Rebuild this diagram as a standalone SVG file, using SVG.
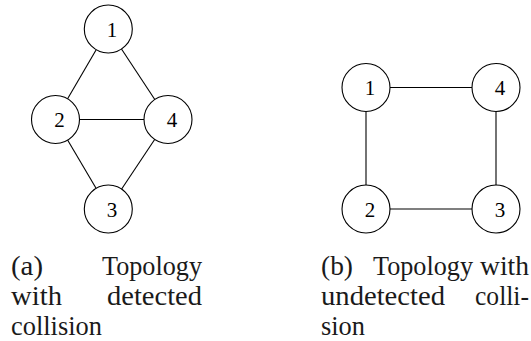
<svg xmlns="http://www.w3.org/2000/svg" width="531" height="341" viewBox="0 0 531 341">
<style>
.e{stroke:#000;stroke-width:1.1;fill:none}
.n circle{fill:#fff;stroke:#000;stroke-width:1.1}
.n text{font-family:"Liberation Serif",serif;font-size:21px;text-anchor:middle;fill:#000}
.c{font-family:"Liberation Serif",serif;font-size:27px;fill:#1a1a1a}
</style>
<rect width="531" height="341" fill="#fff"/>
<g id="connectors">
<line class="e" x1="108.3" y1="29" x2="55.5" y2="119.5"/>
<line class="e" x1="108.3" y1="29" x2="168" y2="119.5"/>
<line class="e" x1="55.5" y1="119.5" x2="168" y2="119.5"/>
<line class="e" x1="55.5" y1="119.5" x2="108.3" y2="209"/>
<line class="e" x1="168" y1="119.5" x2="108.3" y2="209"/>
<line class="e" x1="366" y1="87.5" x2="496" y2="87.5"/>
<line class="e" x1="366" y1="87.5" x2="366" y2="209"/>
<line class="e" x1="496" y1="87.5" x2="496" y2="209"/>
<line class="e" x1="366" y1="209" x2="496" y2="209"/>
</g>
<g id="a1" class="n"><circle cx="108.3" cy="29" r="24"/><text x="112" y="36.8">1</text></g>
<g id="a2" class="n"><circle cx="55.5" cy="119.5" r="24"/><text x="59.5" y="127.3">2</text></g>
<g id="a4" class="n"><circle cx="168" cy="119.5" r="24"/><text x="172" y="127.3">4</text></g>
<g id="a3" class="n"><circle cx="108.3" cy="209" r="24"/><text x="112" y="216.8">3</text></g>
<g id="b1" class="n"><circle cx="366" cy="87.5" r="24"/><text x="370" y="95.3">1</text></g>
<g id="b4" class="n"><circle cx="496" cy="87.5" r="24"/><text x="500" y="95.3">4</text></g>
<g id="b2" class="n"><circle cx="366" cy="209" r="24"/><text x="370" y="216.8">2</text></g>
<g id="b3" class="n"><circle cx="496" cy="209" r="24"/><text x="500" y="216.8">3</text></g>
<g id="caption-a">
<text class="c" x="11" y="275" textLength="32" lengthAdjust="spacingAndGlyphs">(a)</text>
<text class="c" x="102" y="275" textLength="100" lengthAdjust="spacingAndGlyphs">Topology</text>
<text class="c" x="11" y="305" textLength="51" lengthAdjust="spacingAndGlyphs">with</text>
<text class="c" x="107" y="305" textLength="95" lengthAdjust="spacingAndGlyphs">detected</text>
<text class="c" x="11" y="335" textLength="91" lengthAdjust="spacingAndGlyphs">collision</text>
</g>
<g id="caption-b">
<text class="c" x="321" y="275" textLength="32" lengthAdjust="spacingAndGlyphs">(b)</text>
<text class="c" x="373" y="275" textLength="100" lengthAdjust="spacingAndGlyphs">Topology</text>
<text class="c" x="480" y="275" textLength="49" lengthAdjust="spacingAndGlyphs">with</text>
<text class="c" x="321" y="305" textLength="124" lengthAdjust="spacingAndGlyphs">undetected</text>
<text class="c" x="475" y="305" textLength="54" lengthAdjust="spacingAndGlyphs">colli-</text>
<text class="c" x="321" y="335" textLength="44" lengthAdjust="spacingAndGlyphs">sion</text>
</g>
</svg>
